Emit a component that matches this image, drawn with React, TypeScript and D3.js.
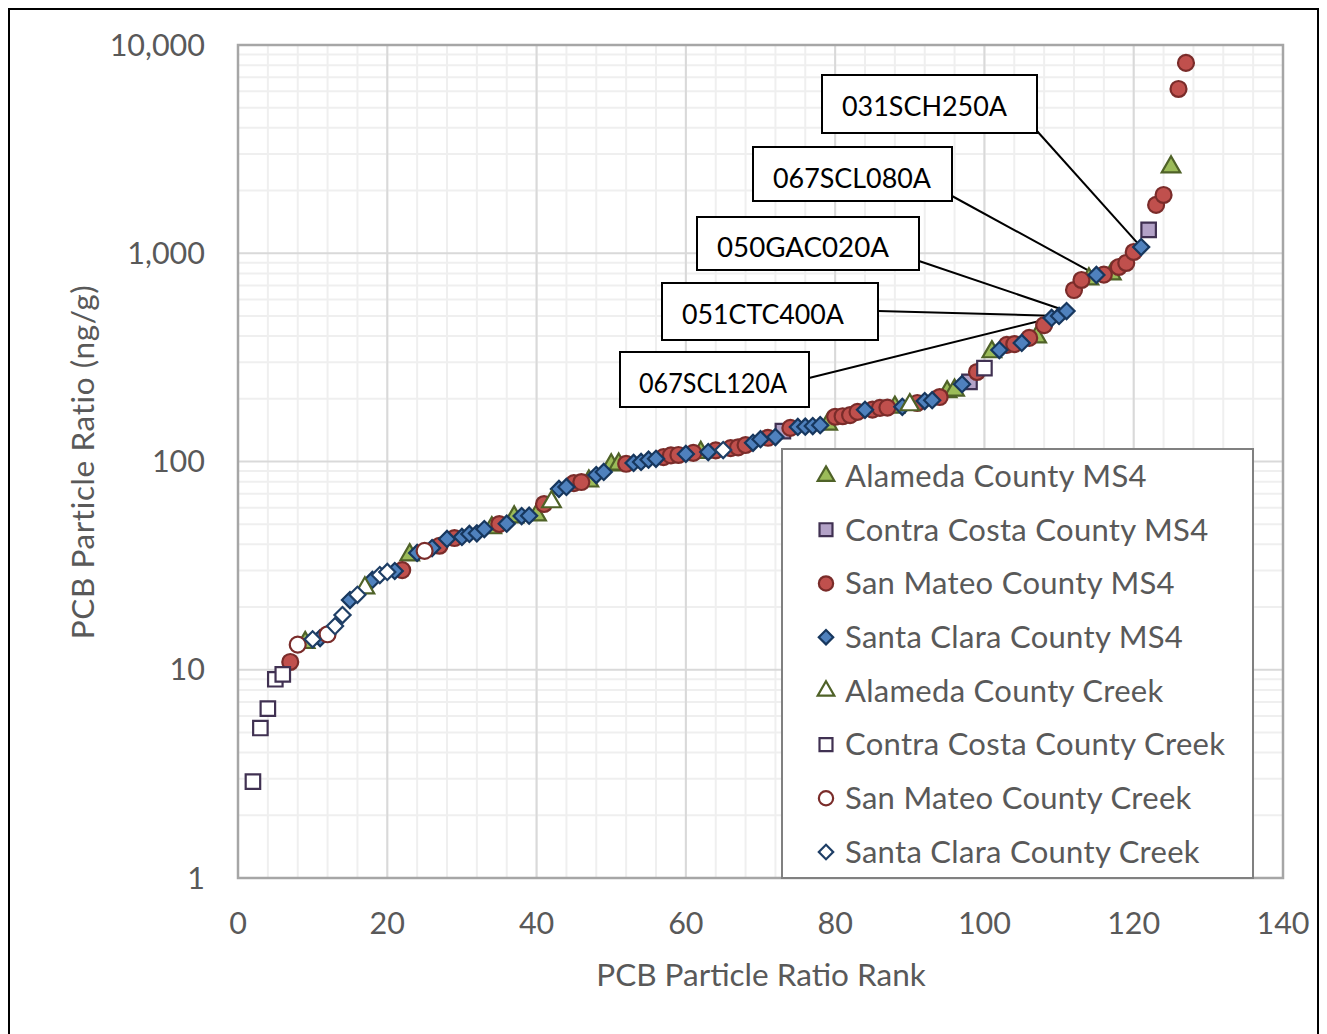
import * as d3 from 'd3';
import React from 'react';

// [rank, PCB particle ratio ng/g] per series
const alamedaMS4 = [[9, 13.5], [23, 35.6], [34, 48], [37, 54.1], [40, 55.3], [47, 80.5], [50, 96.2], [51, 97], [62, 110.5], [79, 151], [88, 182], [95, 216], [96, 220], [101, 336], [107, 396], [114, 752], [117, 795], [125, 2595]];
const contraCostaMS4 = [[73, 140], [98, 241], [122, 1294]];
const sanMateoMS4 = [[7, 10.9], [22, 30.1], [27, 39.4], [29, 42.9], [35, 50.1], [41, 62.5], [45, 78.8], [46, 79.7], [52, 97.5], [57, 105], [58, 107], [59, 107.5], [61, 110], [64, 113], [66, 116], [67, 117], [68, 120], [71, 130], [74, 145], [80, 164], [81, 165], [82, 167], [83, 173], [85, 177.5], [86, 181], [87, 181.5], [91, 191], [94, 204], [99, 269], [103, 363], [104, 366], [106, 392], [108, 452], [112, 666], [113, 744], [116, 790], [118, 859], [119, 898], [120, 1014], [123, 1706], [124, 1905], [126, 6150], [127, 8200]];
const santaClaraMS4 = [[11, 14.2], [15, 21.6], [18, 27], [21, 29.8], [24, 36.4], [26, 38.4], [28, 42.5], [30, 43.4], [31, 44.9], [32, 45.2], [33, 47.4], [36, 50.3], [38, 54.7], [39, 54.9], [43, 73.8], [44, 75.5], [48, 86.1], [49, 89.1], [53, 98.4], [54, 99.5], [55, 102], [56, 103], [60, 108.7], [63, 111], [69, 123], [70, 128], [72, 131], [75, 146.5], [76, 147], [77, 148], [78, 149.5], [84, 177], [89, 183], [92, 195], [93, 197], [97, 235], [102, 343], [105, 371], [109, 489], [110, 500], [111, 528], [115, 787], [121, 1071]];
const alamedaCreek = [[17, 24.7], [42, 64], [90, 187]];
const contraCostaCreek = [[2, 2.9], [3, 5.25], [4, 6.5], [5, 9.0], [6, 9.5], [100, 281]];
const sanMateoCreek = [[8, 13.2], [12, 14.8], [25, 37.2]];
const santaClaraCreek = [[10, 14.0], [13, 16.2], [14, 18.3], [16, 22.9], [19, 28.5], [20, 29.5], [65, 113.5]];

const xTicks = [0, 20, 40, 60, 80, 100, 120, 140];
const yTicks = [1, 10, 100, 1000, 10000];

// labelled stations: [label, rank]
const callouts = [['031SCH250A', 121], ['067SCL080A', 115], ['050GAC020A', 111], ['051CTC400A', 110], ['067SCL120A', 109]];

const series = [
  { name: 'Alameda County MS4', data: alamedaMS4, shape: 'tri', fill: '#9BBB59', stroke: '#4F6228' },
  { name: 'Contra Costa County MS4', data: contraCostaMS4, shape: 'sq', fill: '#B3A2C7', stroke: '#403152' },
  { name: 'San Mateo County MS4', data: sanMateoMS4, shape: 'circ', fill: '#C0504D', stroke: '#7A2C2A' },
  { name: 'Santa Clara County MS4', data: santaClaraMS4, shape: 'dia', fill: '#4F81BD', stroke: '#17375E' },
  { name: 'Alameda County Creek', data: alamedaCreek, shape: 'tri', fill: '#FFFFFF', stroke: '#4F6228' },
  { name: 'Contra Costa County Creek', data: contraCostaCreek, shape: 'sq', fill: '#FFFFFF', stroke: '#403152' },
  { name: 'San Mateo County Creek', data: sanMateoCreek, shape: 'circ', fill: '#FFFFFF', stroke: '#7A2C2A' },
  { name: 'Santa Clara County Creek', data: santaClaraCreek, shape: 'dia', fill: '#FFFFFF', stroke: '#1F3F66' },
];

const W = 1327, H = 1034;
const M = { left: 238, right: 1283, top: 45, bottom: 878 };
const FONT = 'Lato, "Open Sans", sans-serif';

const symbolFor = (shape, s) => {
  if (shape === 'tri') return d3.symbol(d3.symbolTriangle, 150 * s)();
  if (shape === 'sq') return d3.symbol(d3.symbolSquare, 210 * s)();
  if (shape === 'circ') return d3.symbol(d3.symbolCircle, 200 * s)();
  return d3.symbol(d3.symbolSquare, 130 * s)();
};

function Marker({ shape, x, y, fill, stroke, s = 1 }) {
  return (
    <path
      d={symbolFor(shape, s)}
      transform={`translate(${x},${y})${shape === 'dia' ? ' rotate(45)' : ''}`}
      fill={fill}
      stroke={stroke}
      strokeWidth={2.2}
    />
  );
}

export default function App() {
  const x = d3.scaleLinear().domain([0, 140]).range([M.left, M.right]);
  const y = d3.scaleLog().domain([1, 10000]).range([M.bottom, M.top]);

  const minorX = d3.range(0, 141, 4);
  const minorY = [];
  for (let d = 1; d < 10000; d *= 10) for (let k = 2; k < 10; k++) minorY.push(d * k);

  const lookup = new Map();
  series.forEach(s => s.data.forEach(([r, v]) => lookup.set(r, v)));

  // annotation boxes and where each leader line leaves its box
  const boxes = [
    { x0: 822, y0: 75, x1: 1037, y1: 133, lx: 1037, ly: 131, tx: 842, ty: 116 },
    { x0: 753, y0: 147, x1: 952, y1: 201, lx: 952, ly: 196, tx: 773, ty: 188 },
    { x0: 697, y0: 217, x1: 919, y1: 270, lx: 919, ly: 261, tx: 717, ty: 257 },
    { x0: 662, y0: 283, x1: 878, y1: 340, lx: 878, ly: 311, tx: 682, ty: 324 },
    { x0: 620, y0: 352, x1: 809, y1: 407, lx: 809, ly: 378, tx: 639, ty: 393 },
  ];
  const textW = [165, 158, 172, 162, 148];

  const leg = { x0: 782, y0: 449, x1: 1253, y1: 878 };
  const legRow = d3.scaleLinear().domain([0, 7]).range([476, 852]);

  return (
    <svg width={W} height={H} style={{ position: 'absolute', left: 0, top: 0, background: '#fff' }}>
      <rect x={9} y={9} width={1309} height={1040} fill="#fff" stroke="#000" strokeWidth={2} />

      {/* grid */}
      {minorX.map(t => (
        <line key={'mx' + t} x1={x(t)} x2={x(t)} y1={M.top} y2={M.bottom} stroke="#EFEFEF" strokeWidth={2} />
      ))}
      {minorY.map(t => (
        <line key={'my' + t} x1={M.left} x2={M.right} y1={y(t)} y2={y(t)} stroke="#EFEFEF" strokeWidth={2} />
      ))}
      {xTicks.map(t => (
        <line key={'gx' + t} x1={x(t)} x2={x(t)} y1={M.top} y2={M.bottom} stroke="#D9D9D9" strokeWidth={2} />
      ))}
      {yTicks.map(t => (
        <line key={'gy' + t} x1={M.left} x2={M.right} y1={y(t)} y2={y(t)} stroke="#D9D9D9" strokeWidth={2} />
      ))}
      <rect x={M.left} y={M.top} width={M.right - M.left} height={M.bottom - M.top} fill="none" stroke="#A6A6A6" strokeWidth={2.5} />

      {/* ticks */}
      {xTicks.map(t => (
        <text key={'xt' + t} x={x(t)} y={923} dy="0.35em" textAnchor="middle" fontFamily={FONT} fontSize={30.5} fill="#595959">{t}</text>
      ))}
      {yTicks.map(t => (
        <text key={'yt' + t} x={205} y={y(t)} dy="0.35em" textAnchor="end" fontFamily={FONT} fontSize={30.5} fill="#595959">{d3.format(',')(t)}</text>
      ))}
      <text x={761} y={975} dy="0.35em" textAnchor="middle" fontFamily={FONT} fontSize={31.5} fill="#595959">PCB Particle Ratio Rank</text>
      <text transform="translate(83,462) rotate(-90)" dy="0.35em" textAnchor="middle" fontFamily={FONT} fontSize={31.5} letterSpacing={0.6} fill="#595959">PCB Particle Ratio (ng/g)</text>

      {/* leader lines */}
      {callouts.map(([label, rank], i) => (
        <line key={'ll' + label} x1={boxes[i].lx} y1={boxes[i].ly} x2={x(rank)} y2={y(lookup.get(rank))} stroke="#000" strokeWidth={2} />
      ))}

      {/* points */}
      {series.map(s => (
        <g key={s.name}>
          {s.data.map(([r, v]) => (
            <Marker key={r} shape={s.shape} x={x(r)} y={y(v)} fill={s.fill} stroke={s.stroke} />
          ))}
        </g>
      ))}

      {/* callout boxes */}
      {callouts.map(([label], i) => (
        <g key={'cb' + label}>
          <rect x={boxes[i].x0} y={boxes[i].y0} width={boxes[i].x1 - boxes[i].x0} height={boxes[i].y1 - boxes[i].y0} fill="#fff" stroke="#000" strokeWidth={2} />
          <text x={boxes[i].tx} y={boxes[i].ty} textLength={textW[i]} lengthAdjust="spacingAndGlyphs" fontFamily={FONT} fontSize={26} fill="#000">{label}</text>
        </g>
      ))}

      {/* legend */}
      <rect x={leg.x0} y={leg.y0} width={leg.x1 - leg.x0} height={leg.y1 - leg.y0} fill="#fff" stroke="#808080" strokeWidth={2} />
      {series.map((s, i) => (
        <g key={'lg' + s.name}>
          <Marker shape={s.shape} x={826} y={legRow(i)} fill={s.fill} stroke={s.stroke} s={0.8} />
          <text x={845} y={legRow(i)} dy="0.35em" fontFamily={FONT} fontSize={31} letterSpacing={0.3} fill="#595959">{s.name}</text>
        </g>
      ))}
    </svg>
  );
}
